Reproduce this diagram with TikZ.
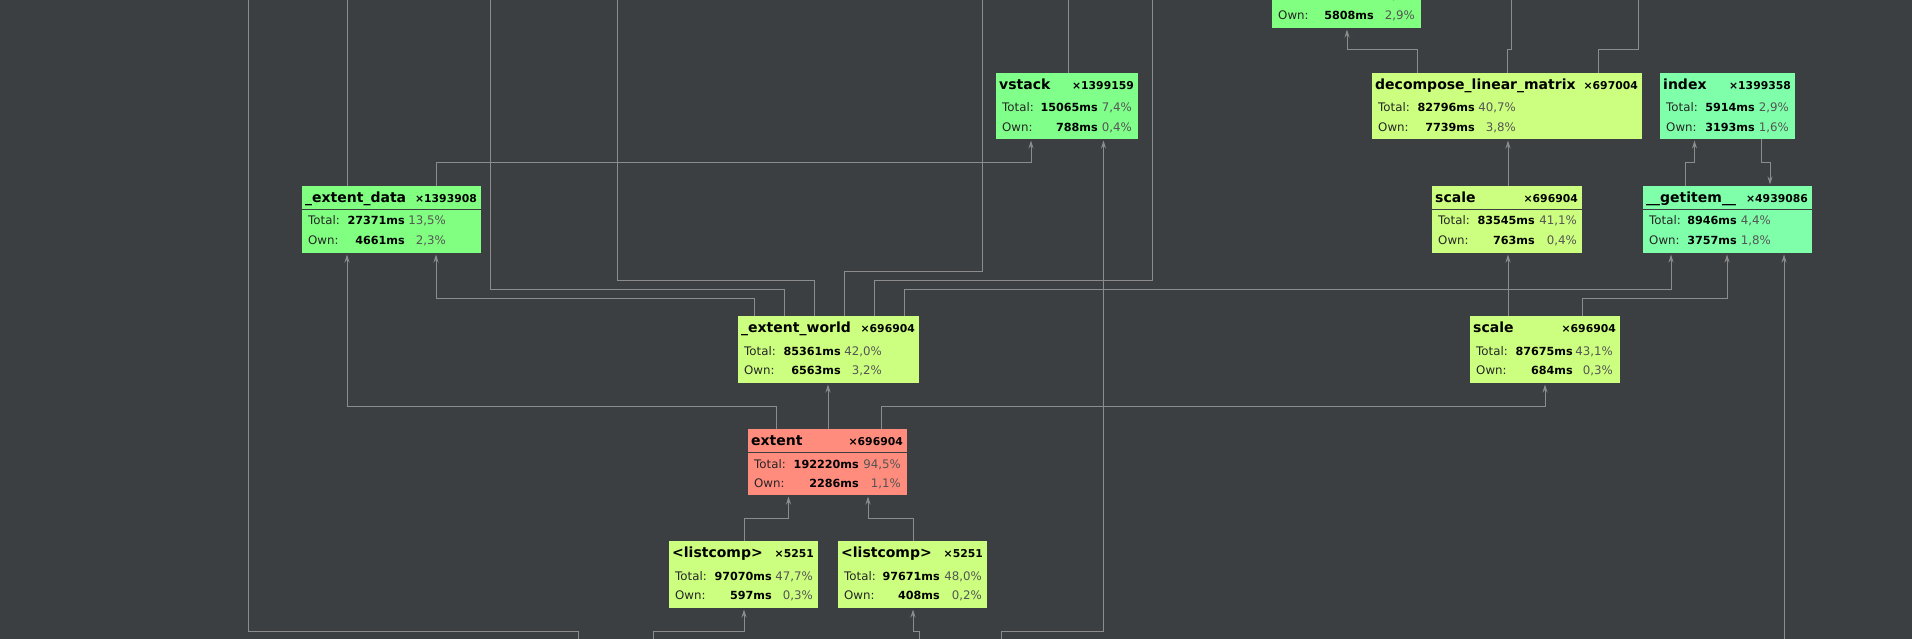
\documentclass[tikz,border=0pt]{standalone}
\usepackage{fontspec}
\setmainfont{DejaVu Sans}
\usetikzlibrary{arrows.meta,calc}
\definecolor{bg}{HTML}{3C3F41}
\definecolor{edgec}{HTML}{8C8C8C}
\definecolor{cgreen}{HTML}{80FF80}
\definecolor{cvstack}{HTML}{80FF8A}
\definecolor{cmint}{HTML}{80FFAA}
\definecolor{cyellow}{HTML}{CCFF80}
\definecolor{csalmon}{HTML}{FF8C7D}
\definecolor{pctc}{HTML}{555555}
\tikzset{
  callbox/.style={draw=none, inner sep=0pt, outer sep=0pt, anchor=north west, rectangle},
  edge/.style={draw=edgec, line width=1pt},
  arr/.style={edge, -{Stealth[length=8pt,width=5pt]}, shorten >=1.5pt},
  titletxt/.style={anchor=base west, inner sep=0pt, font=\fontsize{14}{15}\selectfont\bfseries},
  counttxt/.style={anchor=base east, inner sep=0pt, font=\fontsize{10.8}{12}\selectfont\bfseries},
  labeltxt/.style={anchor=base west, inner sep=0pt, font=\fontsize{11.8}{13}\selectfont, text=black!85},
  valtxt/.style={anchor=base east, inner sep=0pt, font=\fontsize{11.2}{13}\selectfont\bfseries},
  pcttxt/.style={anchor=base east, inner sep=0pt, font=\fontsize{11.8}{13}\selectfont, text=pctc},
  sepline/.style={draw=bg, line width=1.5pt},
}
\newcommand\callbox[6]{\node[callbox, fill=#6, minimum width=#4pt, minimum height=#5pt] (#1) at (#2,#3) {};}
\newcommand\boxrows[7]{%
  \node[labeltxt] (#1-l1) at ($(#1.north west)+(6,39)$) {Total:};
  \node[valtxt] (#1-v1) at ($(#1.north west)+(#2,39)$) {#4};
  \node[pcttxt] (#1-p1) at ($(#1.north west)+(#3,39)$) {#5};
  \node[labeltxt] (#1-l2) at ($(#1.north west)+(6,58.3)$) {Own:};
  \node[valtxt] (#1-v2) at ($(#1.north west)+(#2,58.3)$) {#6};
  \node[pcttxt] (#1-p2) at ($(#1.north west)+(#3,58.3)$) {#7};
}
\newcommand\boxhead[3]{%
  \node[titletxt] (#1-t) at ($(#1.north west)+(3,16.8)$) {#2};
  \node[counttxt] (#1-c) at ($(#1.north east)+(-4,16.8)$) {#3};
}
\newcommand\boxsep[1]{\draw[sepline] ($(#1.north west)+(0,23.5)$) -- ($(#1.north east)+(0,23.5)$);}
\begin{document}
\begin{tikzpicture}[x=1pt,y=-1pt]
\useasboundingbox (0,0) rectangle (1912,639);
\fill[bg] (0,0) rectangle (1912,639);
\clip (0,0) rectangle (1912,639);

% boxes
\callbox{tn}{1272}{-39}{149}{67}{cgreen}
\callbox{vstack}{996}{73}{142}{66}{cvstack}
\callbox{dlm}{1372}{73}{270}{66}{cyellow}
\callbox{index}{1660}{73}{135}{66}{cmint}
\callbox{edata}{302}{186}{179}{67}{cgreen}
\callbox{scaleA}{1432}{186}{150}{67}{cyellow}
\callbox{getitem}{1643}{186}{169}{67}{cmint}
\callbox{eworld}{738}{316}{181}{67}{cyellow}
\callbox{scaleB}{1470}{316}{150}{67}{cyellow}
\callbox{extent}{748}{429}{159}{66}{csalmon}
\callbox{lc1}{669}{541}{149}{67}{cyellow}
\callbox{lc2}{838}{541}{149}{67}{cyellow}

\boxsep{edata}\boxsep{scaleA}\boxsep{getitem}\boxsep{extent}

% texts
\boxrows{tn}{102}{143}{41738ms}{20,5\%}{5808ms}{2,9\%}
\boxhead{vstack}{vstack}{×1399159}
\boxrows{vstack}{102}{136}{15065ms}{7,4\%}{788ms}{0,4\%}
\boxhead{dlm}{decompose\_linear\_matrix}{×697004}
\boxrows{dlm}{103}{144}{82796ms}{40,7\%}{7739ms}{3,8\%}
\boxhead{index}{index}{×1399358}
\boxrows{index}{95}{129}{5914ms}{2,9\%}{3193ms}{1,6\%}
\boxhead{edata}{\_extent\_data}{×1393908}
\boxrows{edata}{103}{144}{27371ms}{13,5\%}{4661ms}{2,3\%}
\boxhead{scaleA}{scale}{×696904}
\boxrows{scaleA}{103}{145}{83545ms}{41,1\%}{763ms}{0,4\%}
\boxhead{getitem}{\_\_getitem\_\_}{×4939086}
\boxrows{getitem}{94}{128}{8946ms}{4,4\%}{3757ms}{1,8\%}
\boxhead{eworld}{\_extent\_world}{×696904}
\boxrows{eworld}{103}{144}{85361ms}{42,0\%}{6563ms}{3,2\%}
\boxhead{scaleB}{scale}{×696904}
\boxrows{scaleB}{103}{143}{87675ms}{43,1\%}{684ms}{0,3\%}
\boxhead{extent}{extent}{×696904}
\boxrows{extent}{111}{153}{192220ms}{94,5\%}{2286ms}{1,1\%}
\boxhead{lc1}{<listcomp>}{×5251}
\boxrows{lc1}{103}{144}{97070ms}{47,7\%}{597ms}{0,3\%}
\boxhead{lc2}{<listcomp>}{×5251}
\boxrows{lc2}{102}{144}{97671ms}{48,0\%}{408ms}{0,2\%}

% free ends
\coordinate (b1) at (578,645);
\coordinate (t1) at (248.5,-5);
\coordinate (t2) at (347,-5);
\coordinate (t6) at (490,-5);
\coordinate (t7) at (617,-5);
\coordinate (t8) at (982,-5);
\coordinate (t9) at (1152,-5);
\coordinate (t11) at (1068,-5);
\coordinate (b12) at (1001,645);
\coordinate (b13) at (653.5,645);
\coordinate (b14) at (919,645);
\coordinate (b22) at (1784,645);
\coordinate (t26) at (1511,-5);
\coordinate (t27) at (1638,-5);

% connectors
\draw[edge] (b1) -- ++(0,-14) -| (t1);
\draw[edge] ($(edata.north west)+(45,0)$) -- (t2);
\draw[arr] ($(extent.north west)+(28,0)$) -- ++(0,-23) -| ($(edata.south west)+(45,0)$);
\draw[arr] ($(eworld.north west)+(16,0)$) -- ++(0,-18) -| ($(edata.south west)+(134,0)$);
\draw[arr] ($(edata.north west)+(134,0)$) -- ++(0,-23) -| ($(vstack.south west)+(35,0)$);
\draw[edge] ($(eworld.north west)+(46,0)$) -- ++(0,-27) -| (t6);
\draw[edge] ($(eworld.north west)+(76,0)$) -- ++(0,-36) -| (t7);
\draw[edge] ($(eworld.north west)+(106,0)$) -- ++(0,-45) -| (t8);
\draw[edge] ($(eworld.north west)+(136,0)$) -- ++(0,-36) -| (t9);
\draw[arr] ($(eworld.north west)+(166,0)$) -- ++(0,-27) -| ($(getitem.south west)+(28,0)$);
\draw[edge] ($(vstack.north west)+(72,0)$) -- (t11);
\draw[arr] (b12) -- ++(0,-14) -| ($(vstack.south west)+(107.5,0)$);
\draw[arr] (b13) -- ++(0,-14) -| ($(lc1.south west)+(75,0)$);
\draw[arr] (b14) -- ++(0,-14) -| ($(lc2.south west)+(75,0)$);
\draw[arr] ($(lc1.north west)+(75,0)$) -- ++(0,-23) -| ($(extent.south west)+(40.5,0)$);
\draw[arr] ($(lc2.north west)+(75,0)$) -- ++(0,-23) -| ($(extent.south west)+(120,0)$);
\draw[arr] ($(extent.north west)+(80,0)$) -- ($(eworld.south west)+(90,0)$);
\draw[arr] ($(extent.north west)+(133,0)$) -- ++(0,-23) -| ($(scaleB.south west)+(75,0)$);
\draw[arr] ($(scaleB.north west)+(38,0)$) -- ($(scaleA.south west)+(76,0)$);
\draw[arr] ($(scaleA.north west)+(76,0)$) -- ($(dlm.south west)+(136,0)$);
\draw[arr] ($(scaleB.north west)+(112,0)$) -- ++(0,-17.5) -| ($(getitem.south west)+(84,0)$);
\draw[arr] (b22) -- ($(getitem.south west)+(141,0)$);
\draw[arr] ($(getitem.north west)+(42.5,0)$) -- ++(0,-23) -| ($(index.south west)+(34.5,0)$);
\draw[arr] ($(index.south west)+(101,0)$) -- ++(0,24) -| ($(getitem.north west)+(127,0)$);
\draw[arr] ($(dlm.north west)+(45,0)$) -- ++(0,-23) -| ($(tn.south west)+(75,0)$);
\draw[edge] ($(dlm.north west)+(135,0)$) -- ++(0,-23) -| (t26);
\draw[edge] ($(dlm.north west)+(226,0)$) -- ++(0,-23) -| (t27);
\end{tikzpicture}
\end{document}
